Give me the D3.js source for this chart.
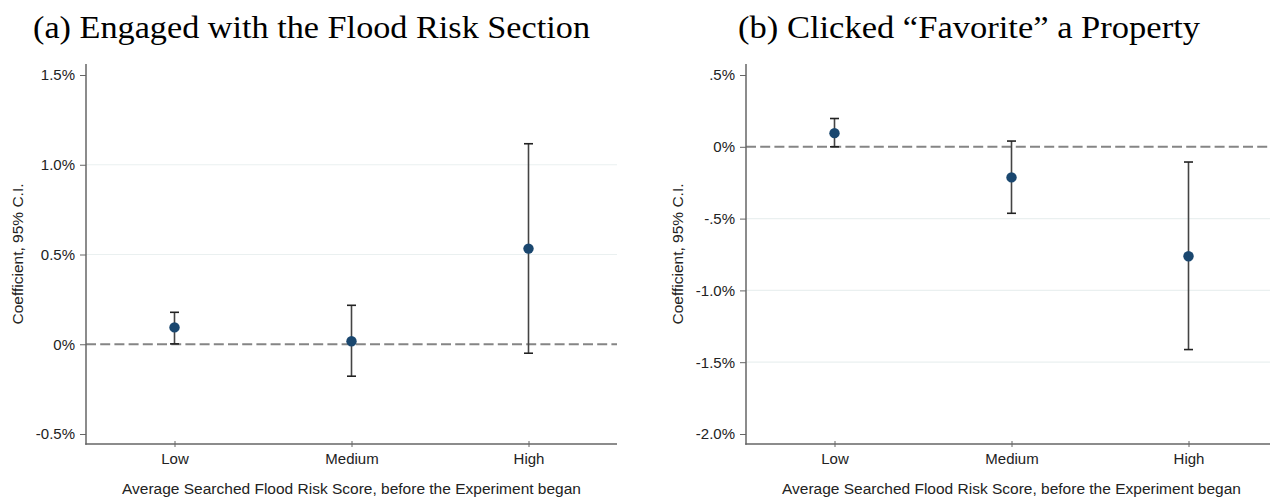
<!DOCTYPE html>
<html>
<head>
<meta charset="utf-8">
<script src="https://cdn.jsdelivr.net/npm/d3@7"></script>
<style>
  body { margin: 0; background: #fff; }
  svg { display: block; }
</style>
</head>
<body>
<svg id="chart" width="1270" height="497"></svg>
<script>
// categories shared by both panels
var categories = ["Low", "Medium", "High"];

// panel (a): engaged with the flood risk section (percent)
var engagedCoef = [0.094, 0.017, 0.533];
var engagedLow  = [0.002, -0.178, -0.050];
var engagedHigh = [0.178, 0.217, 1.117];
var engagedTicks = [-0.5, 0, 0.5, 1.0, 1.5];
var engagedTickLabels = ["-0.5%", "0%", "0.5%", "1.0%", "1.5%"];

// panel (b): clicked "favorite" a property (percent)
var favCoef = [0.095, -0.213, -0.762];
var favLow  = [0.000, -0.463, -1.412];
var favHigh = [0.197, 0.040, -0.106];
var favTicks = [-2.0, -1.5, -1.0, -0.5, 0, 0.5];
var favTickLabels = ["-2.0%", "-1.5%", "-1.0%", "-.5%", "0%", ".5%"];

var svg = d3.select("#chart");

var sans = "'Liberation Sans', Arial, sans-serif";
var serif = "'Liberation Serif', 'DejaVu Serif', serif";
var labelSize = "15px";
var titleSize = "15.5px";

function drawPanel(opts) {
  var x = d3.scalePoint()
      .domain(categories)
      .range([opts.left, opts.right])
      .padding(0.5);

  var y = d3.scaleLinear()
      .domain(opts.domain)
      .range([opts.bottom, opts.top]);

  var g = svg.append("g");

  // title (stretched a bit, the original font is wider than Times)
  g.append("text")
      .attr("x", opts.titleX)
      .attr("y", 38)
      .attr("textLength", opts.titleWidth)
      .attr("lengthAdjust", "spacingAndGlyphs")
      .style("font-family", serif)
      .style("font-size", "31px")
      .style("fill", "#000")
      .text(opts.title);

  // light gridlines at interior ticks
  g.selectAll(".grid")
    .data(opts.ticks.filter(function(t) { return t !== 0 && t !== opts.ticks[0] && t !== opts.ticks[opts.ticks.length - 1]; }))
    .enter().append("line")
      .attr("x1", opts.left)
      .attr("x2", opts.right)
      .attr("y1", function(d) { return y(d); })
      .attr("y2", function(d) { return y(d); })
      .style("stroke", "#eaf0f0")
      .style("stroke-width", 1.2);

  // zero reference line
  g.append("line")
      .attr("x1", opts.left)
      .attr("x2", opts.right)
      .attr("y1", y(0))
      .attr("y2", y(0))
      .style("stroke", "#858585")
      .style("stroke-width", 2)
      .style("stroke-dasharray", "10,4.2");

  // y axis
  var yAxis = d3.axisLeft(y)
      .tickValues(opts.ticks)
      .tickFormat(function(d, i) { return opts.tickLabels[i]; })
      .tickSize(6)
      .tickPadding(5);

  var ya = g.append("g")
      .attr("transform", "translate(" + opts.left + ",0)")
      .call(yAxis);
  ya.select(".domain").remove();
  ya.append("line")
      .attr("y1", 64).attr("y2", opts.bottom + 10.7)
      .style("stroke", "#666").style("stroke-width", 1.5);
  ya.selectAll(".tick line").style("stroke", "#666");
  ya.selectAll(".tick text")
      .style("font-family", sans)
      .style("font-size", labelSize)
      .style("fill", "#222");

  // x axis
  var xAxis = d3.axisBottom(x)
      .tickSize(5)
      .tickPadding(4);

  var xa = g.append("g")
      .attr("transform", "translate(0," + (opts.bottom + 10) + ")")
      .call(xAxis);
  xa.select(".domain").remove();
  xa.append("line")
      .attr("x1", opts.left - 0.75).attr("x2", opts.right)
      .style("stroke", "#666").style("stroke-width", 1.5);
  xa.selectAll(".tick line")
      .attr("y1", -3).attr("y2", 3)
      .style("stroke", "#666");
  xa.selectAll(".tick text")
      .style("font-family", sans)
      .style("font-size", labelSize)
      .style("fill", "#222");

  // axis titles
  g.append("text")
      .attr("transform", "translate(" + (opts.left - 63) + "," + 254 + ") rotate(-90)")
      .attr("text-anchor", "middle")
      .style("font-family", sans)
      .style("font-size", titleSize)
      .style("fill", "#222")
      .text("Coefficient, 95% C.I.");

  g.append("text")
      .attr("x", (opts.left + opts.right) / 2)
      .attr("y", 494)
      .attr("text-anchor", "middle")
      .style("font-family", sans)
      .style("font-size", titleSize)
      .style("fill", "#222")
      .text("Average Searched Flood Risk Score, before the Experiment began");

  // error bars
  var bars = g.selectAll(".ci")
    .data(categories)
    .enter().append("g")
      .attr("class", "ci");

  bars.append("line")
      .attr("x1", function(d) { return x(d); })
      .attr("x2", function(d) { return x(d); })
      .attr("y1", function(d, i) { return y(opts.low[i]); })
      .attr("y2", function(d, i) { return y(opts.high[i]); })
      .style("stroke", "#444")
      .style("stroke-width", 1.6);

  [opts.low, opts.high].forEach(function(arr) {
    bars.append("line")
        .attr("x1", function(d) { return x(d) - 4.5; })
        .attr("x2", function(d) { return x(d) + 4.5; })
        .attr("y1", function(d, i) { return y(arr[i]); })
        .attr("y2", function(d, i) { return y(arr[i]); })
        .style("stroke", "#222")
        .style("stroke-width", 1.6);
  });

  // point estimates
  g.selectAll(".pt")
    .data(categories)
    .enter().append("circle")
      .attr("class", "pt")
      .attr("cx", function(d) { return x(d); })
      .attr("cy", function(d, i) { return y(opts.coef[i]); })
      .attr("r", 5.2)
      .style("fill", "#1a476f");
}

drawPanel({
  title: "(a) Engaged with the Flood Risk Section",
  titleX: 33, titleWidth: 557,
  left: 86, right: 617, top: 75, bottom: 434,
  domain: [-0.5, 1.5],
  ticks: engagedTicks, tickLabels: engagedTickLabels,
  coef: engagedCoef, low: engagedLow, high: engagedHigh
});

drawPanel({
  title: "(b) Clicked \u201cFavorite\u201d a Property",
  titleX: 738, titleWidth: 462,
  left: 746, right: 1277, top: 75, bottom: 434,
  domain: [-2.0, 0.5],
  ticks: favTicks, tickLabels: favTickLabels,
  coef: favCoef, low: favLow, high: favHigh
});
</script>
</body>
</html>
